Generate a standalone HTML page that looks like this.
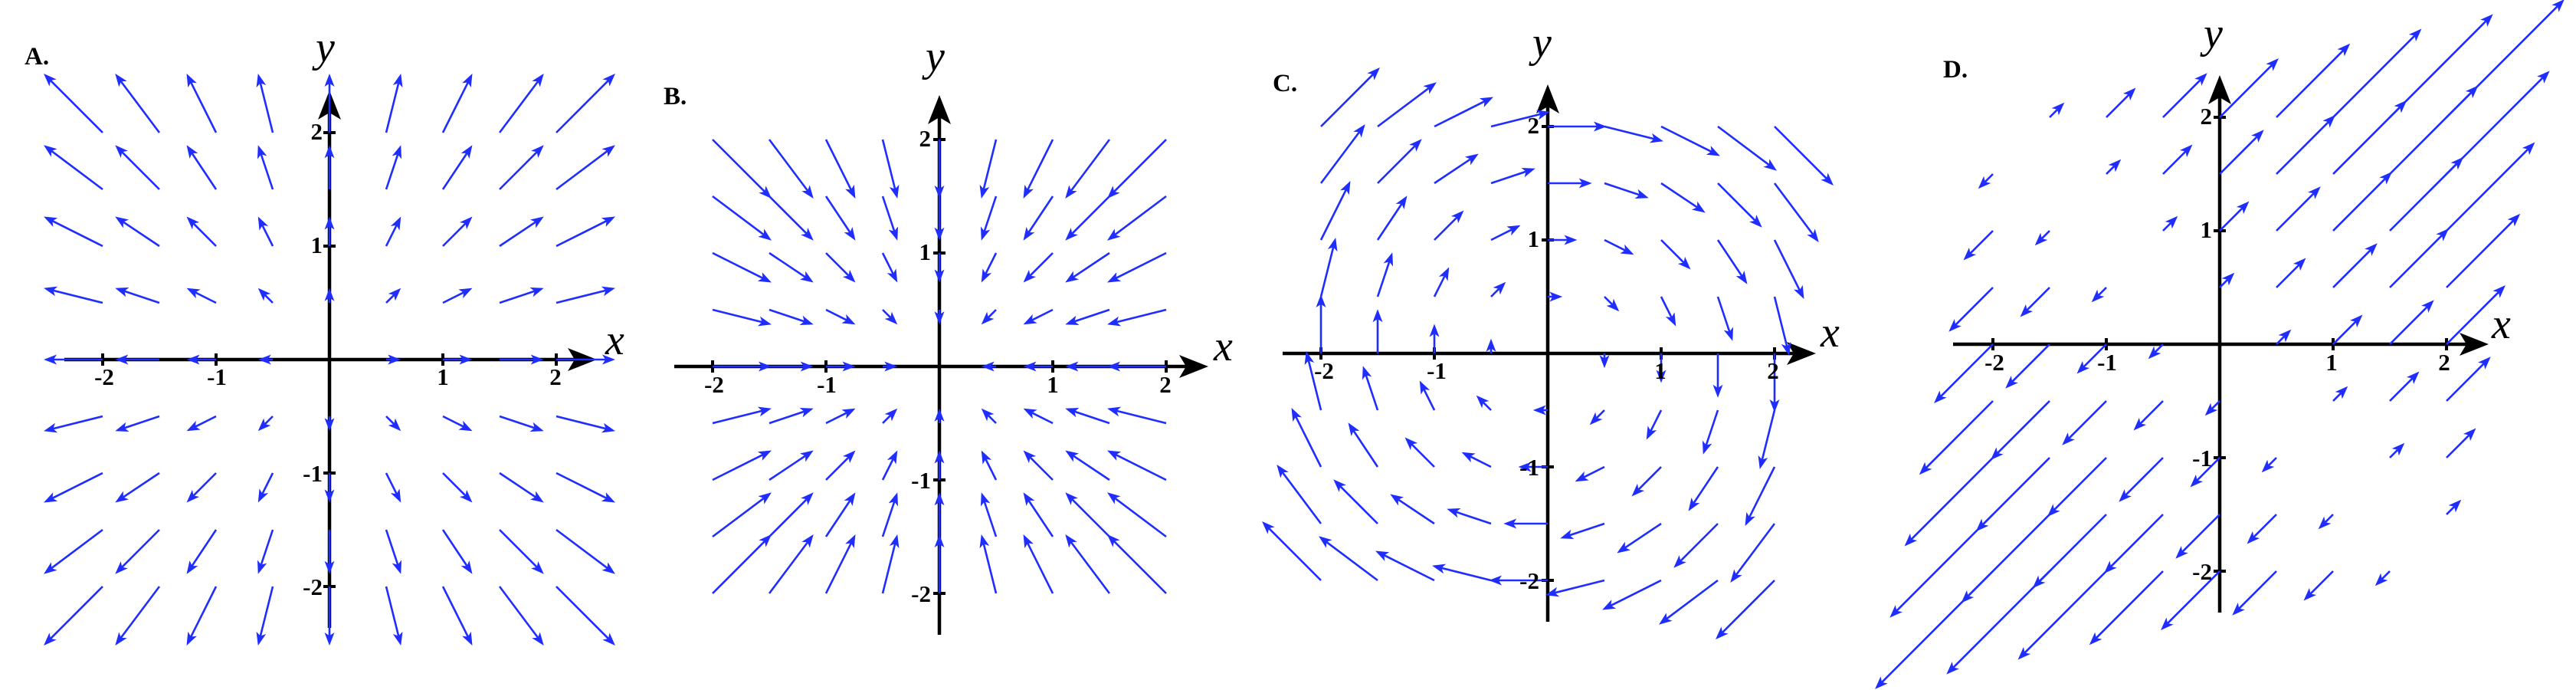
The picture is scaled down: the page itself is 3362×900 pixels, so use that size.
<!DOCTYPE html>
<html><head><meta charset="utf-8"><style>
html,body{margin:0;padding:0;background:#fff;}
svg{display:block;}
.t{font-family:"Liberation Serif",serif;font-weight:bold;font-size:31px;fill:#000;}
.p{font-family:"Liberation Serif",serif;font-weight:bold;font-size:33px;fill:#000;}
.v{font-family:"Liberation Serif",serif;font-style:italic;font-size:56px;fill:#000;}
</style></head><body>
<svg id="s" width="3362" height="900" xmlns="http://www.w3.org/2000/svg">
<g id="axes"></g>
<g id="arr"></g>
<!-- A -->
<text class="p" x="32" y="84">A.</text>
<text class="v" x="412" y="80">y</text>
<text class="v" x="790" y="462">x</text>
<text class="t" text-anchor="middle" x="136" y="502">-2</text>
<text class="t" text-anchor="middle" x="283" y="502">-1</text>
<text class="t" text-anchor="middle" x="578" y="502">1</text>
<text class="t" text-anchor="middle" x="725" y="502">2</text>
<text class="t" text-anchor="end" x="421" y="182">2</text>
<text class="t" text-anchor="end" x="421" y="330">1</text>
<text class="t" text-anchor="end" x="421" y="628">-1</text>
<text class="t" text-anchor="end" x="421" y="776">-2</text>
<!-- B -->
<text class="p" x="866" y="136">B.</text>
<text class="v" x="1208" y="92">y</text>
<text class="v" x="1584" y="470">x</text>
<text class="t" text-anchor="middle" x="932" y="512">-2</text>
<text class="t" text-anchor="middle" x="1079" y="512">-1</text>
<text class="t" text-anchor="middle" x="1374" y="512">1</text>
<text class="t" text-anchor="middle" x="1521" y="512">2</text>
<text class="t" text-anchor="end" x="1215" y="191">2</text>
<text class="t" text-anchor="end" x="1215" y="339">1</text>
<text class="t" text-anchor="end" x="1215" y="637">-1</text>
<text class="t" text-anchor="end" x="1215" y="785">-2</text>
<!-- C -->
<text class="p" x="1661" y="119">C.</text>
<text class="v" x="2000" y="74">y</text>
<text class="v" x="2376" y="452">x</text>
<text class="t" text-anchor="middle" x="1728" y="494">-2</text>
<text class="t" text-anchor="middle" x="1875" y="494">-1</text>
<text class="t" text-anchor="middle" x="2167" y="494">1</text>
<text class="t" text-anchor="middle" x="2314" y="494">2</text>
<text class="t" text-anchor="end" x="2009" y="174">2</text>
<text class="t" text-anchor="end" x="2009" y="322">1</text>
<text class="t" text-anchor="end" x="2009" y="620">-1</text>
<text class="t" text-anchor="end" x="2009" y="768">-2</text>
<!-- D -->
<text class="p" x="2536" y="101">D.</text>
<text class="v" x="2876" y="62">y</text>
<text class="v" x="3252" y="441">x</text>
<text class="t" text-anchor="middle" x="2603" y="483">-2</text>
<text class="t" text-anchor="middle" x="2750" y="483">-1</text>
<text class="t" text-anchor="middle" x="3043" y="483">1</text>
<text class="t" text-anchor="middle" x="3190" y="483">2</text>
<text class="t" text-anchor="end" x="2887" y="162">2</text>
<text class="t" text-anchor="end" x="2887" y="310">1</text>
<text class="t" text-anchor="end" x="2887" y="608">-1</text>
<text class="t" text-anchor="end" x="2887" y="756">-2</text>
</svg>
<script>
(function(){
var NS="http://www.w3.org/2000/svg";
var axes=document.getElementById("axes"),arr=document.getElementById("arr");
function el(p,tag,a){var e=document.createElementNS(NS,tag);for(var k in a)e.setAttribute(k,a[k]);p.appendChild(e);return e;}
var U=148,K=0.26,C="#1f2dff";
var P=[
 {ox:430,oy:469,x0:84,x1:779,yt:118,yb:819,f:function(x,y){return [x,y];}},
 {ox:1226,oy:478,x0:880,x1:1577,yt:124,yb:828,f:function(x,y){return [-x,-y];}},
 {ox:2020,oy:461,x0:1674,x1:2370,yt:110,yb:811,f:function(x,y){return [y,-x];}},
 {ox:2897,oy:449,x0:2549,x1:3248,yt:98,yb:799,f:function(x,y){return [x+y,x+y];}}
];
P.forEach(function(p){
 el(axes,"line",{x1:p.x0,y1:p.oy,x2:p.x1-20,y2:p.oy,stroke:"#000","stroke-width":4.5});
 el(axes,"line",{x1:p.ox,y1:p.yb,x2:p.ox,y2:p.yt+20,stroke:"#000","stroke-width":4.5});
 var xt=p.x1,yt=p.yt;
 el(axes,"path",{d:"M"+xt+","+p.oy+" L"+(xt-38)+","+(p.oy-15)+" L"+(xt-29)+","+p.oy+" L"+(xt-38)+","+(p.oy+15)+"Z",fill:"#000"});
 el(axes,"path",{d:"M"+p.ox+","+yt+" L"+(p.ox-15)+","+(yt+38)+" L"+p.ox+","+(yt+29)+" L"+(p.ox+15)+","+(yt+38)+"Z",fill:"#000"});
 [-2,-1,1,2].forEach(function(t){
  el(axes,"line",{x1:p.ox+t*U,y1:p.oy-8,x2:p.ox+t*U,y2:p.oy+8,stroke:"#000","stroke-width":4});
  el(axes,"line",{x1:p.ox-8,y1:p.oy-t*U,x2:p.ox+8,y2:p.oy-t*U,stroke:"#000","stroke-width":4});
 });
 for(var i=-4;i<=4;i++)for(var j=-4;j<=4;j++){
  var x=i/2,y=j/2,v=p.f(x,y);
  var dx=v[0]*K*U,dy=-v[1]*K*U,L=Math.sqrt(dx*dx+dy*dy);
  if(L<1)continue;
  var tx=p.ox+x*U,ty=p.oy-y*U,hx=tx+dx,hy=ty+dy;
  var ux=dx/L,uy=dy/L,hl=17,hw=6.5;
  var bx=hx-ux*hl,by=hy-uy*hl,mx=hx-ux*hl*0.75,my=hy-uy*hl*0.75;
  el(arr,"line",{x1:tx,y1:ty,x2:mx,y2:my,stroke:C,"stroke-width":2.6});
  el(arr,"path",{d:"M"+hx+","+hy+" L"+(bx-uy*hw)+","+(by+ux*hw)+" L"+mx+","+my+" L"+(bx+uy*hw)+","+(by-ux*hw)+"Z",fill:C});
 }
});
})();
</script>
</body></html>
